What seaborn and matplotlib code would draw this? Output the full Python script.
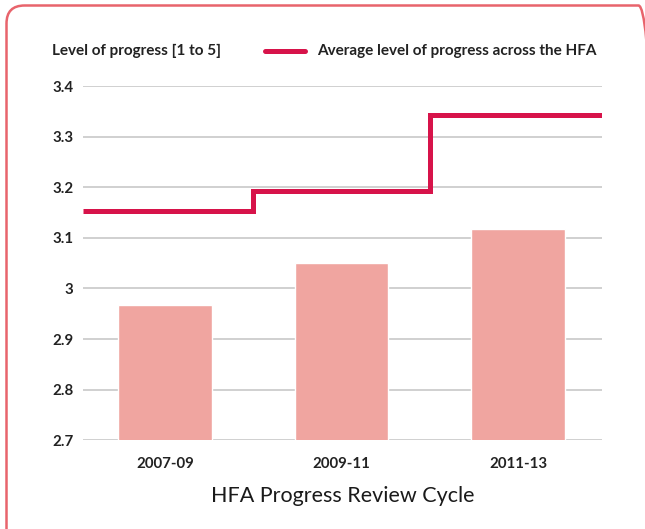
import numpy as np
import pandas as pd
import matplotlib
matplotlib.use("Agg")
import matplotlib.pyplot as plt
from matplotlib.patches import FancyBboxPatch
from matplotlib.lines import Line2D
from matplotlib.transforms import IdentityTransform
import seaborn as sns

# data
cycles = ["2007-09", "2009-11", "2011-13"]
progress = [2.967, 3.050, 3.117]
hfa_average = [3.153, 3.193, 3.343]
y_ticks = [2.7, 2.8, 2.9, 3, 3.1, 3.2, 3.3, 3.4]
y_tick_labels = ["2.7", "2.8", "2.9", "3", "3.1", "3.2", "3.3", "3.4"]

sns.set_theme(style="white")
plt.rcParams["font.family"] = ["Lato", "DejaVu Sans"]

bar_color = "#f0a5a0"
line_color = "#d7134a"
text_color = "#222222"

fig = plt.figure(figsize=(6.45, 5.29), dpi=100)
ax = fig.add_axes([0.1287, 0.168, 0.8043, 0.669])

df = pd.DataFrame({"cycle": cycles, "progress": progress})
sns.barplot(data=df, x="cycle", y="progress", color=bar_color, width=0.53,
            saturation=1, ax=ax, zorder=2)

xmin, xmax = -0.465, len(cycles) - 1 + 0.475
edges = np.r_[xmin, np.arange(1, len(cycles)) - 0.5, xmax]
ax.stairs(hfa_average, edges, baseline=None, color=line_color, linewidth=3.6,
          zorder=3)

ax.set_xlim(xmin, xmax)
ax.set_ylim(2.7, 3.4)
ax.set_yticks(y_ticks)
ax.set_yticklabels(y_tick_labels)
ax.yaxis.grid(True, color="#c8c8c8", linewidth=1.2, zorder=0)
ax.set_axisbelow(True)
for s in ax.spines.values():
    s.set_visible(False)
ax.tick_params(axis="y", length=0, pad=7, labelsize=10.8, labelcolor=text_color)
ax.tick_params(axis="x", length=0, pad=12, labelsize=10.8, labelcolor=text_color)
for lab in ax.get_xticklabels() + ax.get_yticklabels():
    lab.set_fontweight("bold")
ax.set_ylabel("")
ax.set_xlabel("HFA Progress Review Cycle", fontsize=15.5, color="#1a1a1a",
              labelpad=11, fontweight="normal")

# header texts and legend
fig.text(52 / 645, 1 - 51 / 529, "Level of progress [1 to 5]", fontsize=11,
         fontweight="bold", color=text_color, va="center", ha="left")
fig.add_artist(Line2D([265 / 645, 305 / 645], [1 - 51 / 529, 1 - 51 / 529],
                      color=line_color, linewidth=3.6))
fig.text(317 / 645, 1 - 51 / 529, "Average level of progress across the HFA",
         fontsize=11, fontweight="bold", color=text_color, va="center",
         ha="left")

# rounded frame, in pixels; right and bottom edges run past the image
frame = FancyBboxPatch((6.5, -40), 650, 529 - 5.5 + 40,
                       boxstyle="round,pad=0,rounding_size=18",
                       transform=IdentityTransform(), facecolor="none",
                       edgecolor="#e8646c", linewidth=1.8, clip_on=False)
fig.add_artist(frame)

fig.savefig("out.png", dpi=100)
